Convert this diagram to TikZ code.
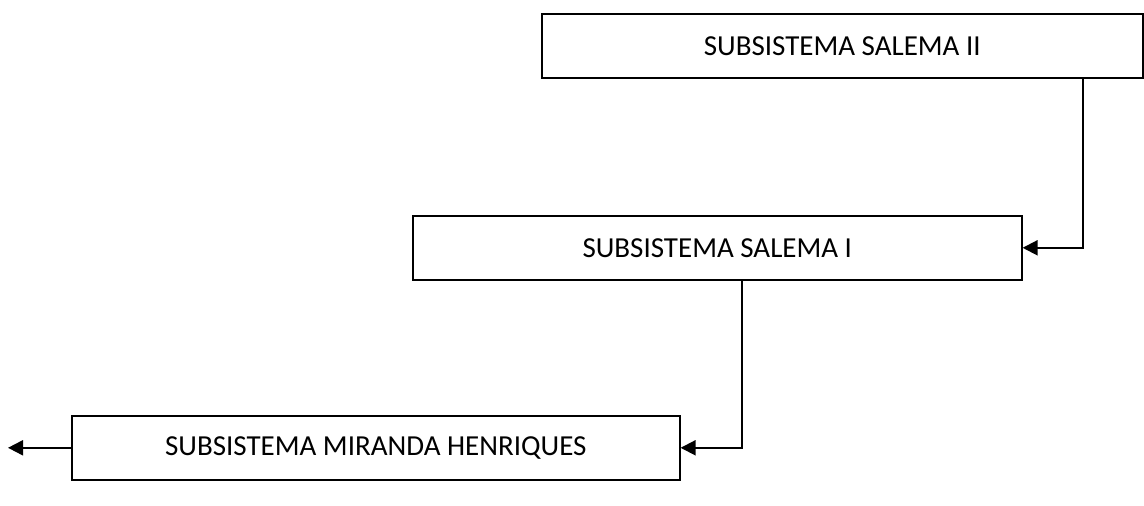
\documentclass[tikz,border=0pt]{standalone}
\usepackage{fontspec}
\setmainfont{Carlito}
\usetikzlibrary{arrows.meta,positioning}
\begin{document}
\begin{tikzpicture}[x=1pt,y=-1pt,
  sysbox/.style={draw=black,line width=1.6pt,minimum width=#1,minimum height=64pt,
    inner sep=0pt,font=\fontsize{29}{34}\selectfont,anchor=north west},
  flow/.style={draw=black,line width=2pt,-{Triangle[length=15pt,width=15pt]}}]
  \useasboundingbox (0,0) rectangle (1144,506);
  \fill[white] (0,0) rectangle (1144,506);
  % the three subsystems, stepped down from right to left
  \node[sysbox=601pt] (s2) at (541,13) {SUBSISTEMA SALEMA II};
  \node[sysbox=609pt] (s1) at (412,215) {SUBSISTEMA SALEMA I};
  \node[sysbox=608pt] (mh) at (71,415) {SUBSISTEMA MIRANDA HENRIQUES};
  \coordinate (out) at (8,447);
  % elbow connectors from each bottom to the next box's right side
  \draw[flow] ([xshift=542pt]s2.south west) |- (s1.east);
  \draw[flow] ([xshift=330pt]s1.south west) |- (mh.east);
  \draw[flow] (mh.west) -- (mh.west -| out);
\end{tikzpicture}
\end{document}
